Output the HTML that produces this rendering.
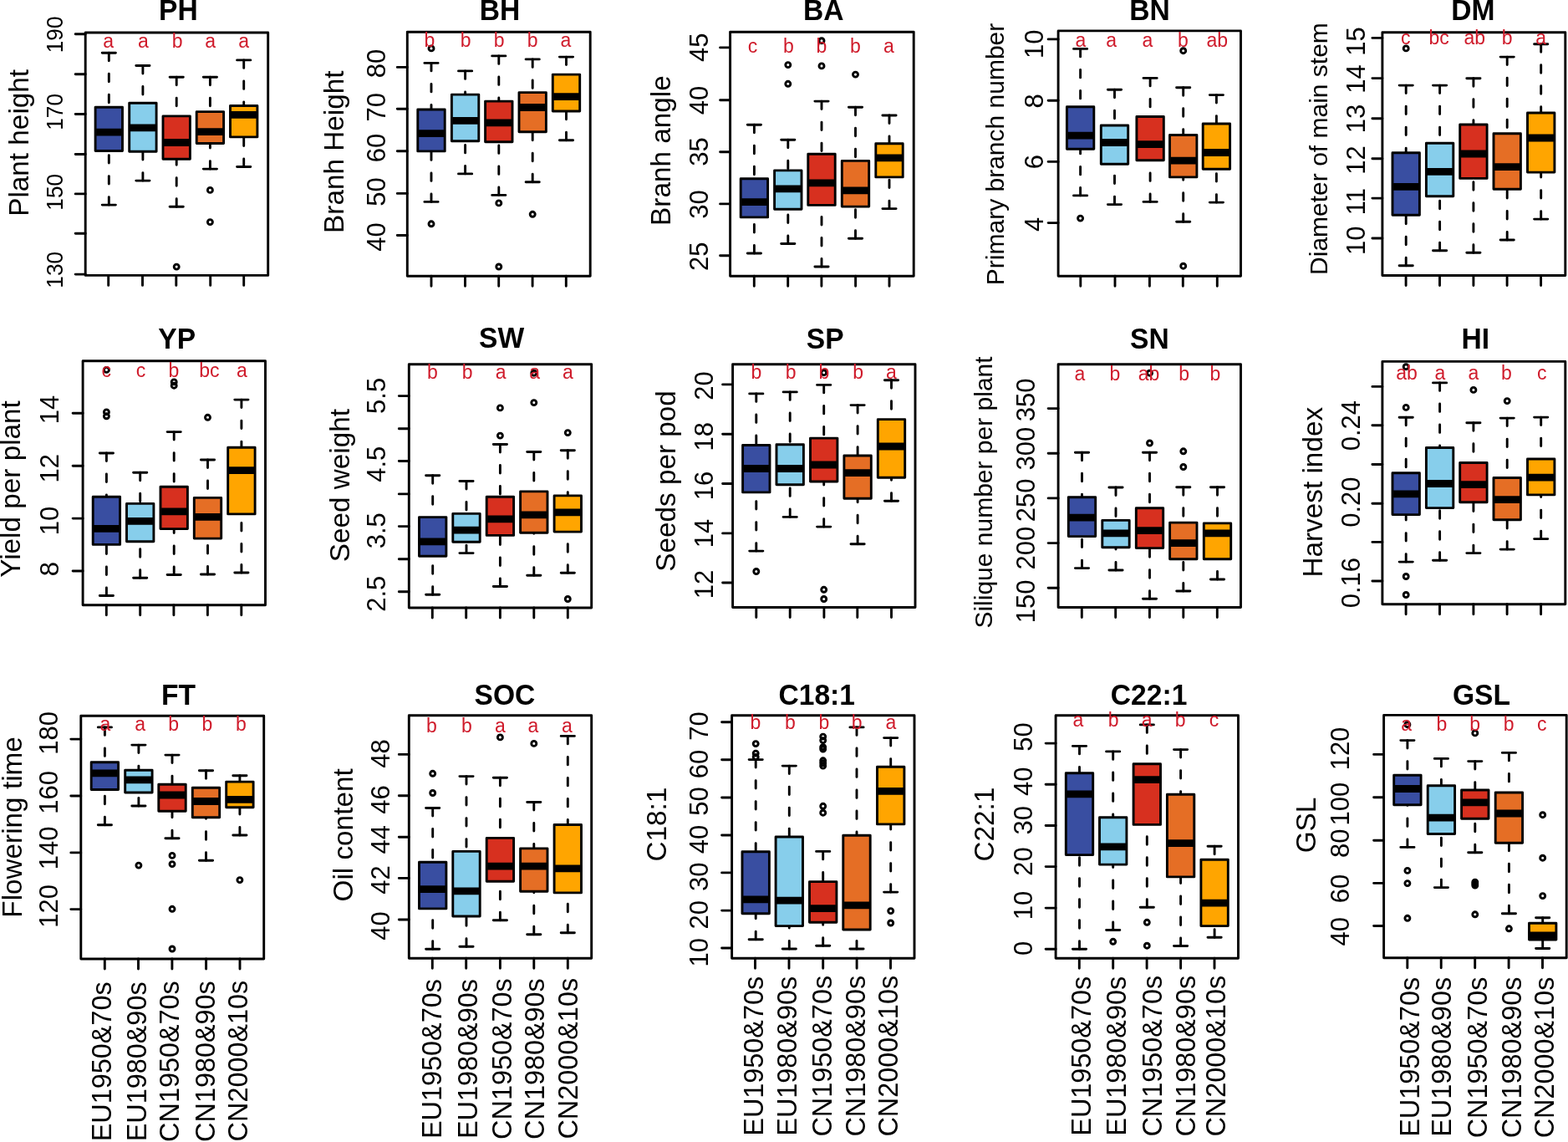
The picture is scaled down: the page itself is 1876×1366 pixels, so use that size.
<!DOCTYPE html>
<html lang="en">
<head>
<meta charset="utf-8">
<title>Trait boxplots</title>
<style>
html,body{margin:0;padding:0;background:#fff;}
body{width:1876px;height:1366px;overflow:hidden;}
svg{display:block;}
text{font-family:"Liberation Sans",Arial,Helvetica,sans-serif;fill:#000;}
.k{stroke:#000;stroke-width:2.9;stroke-linecap:round;stroke-linejoin:round;fill:none;}
.d{stroke:#000;stroke-width:2.9;stroke-linecap:round;fill:none;stroke-dasharray:9.5 15.5;}
.m{stroke:#000;stroke-width:8.8;stroke-linecap:butt;fill:none;}
.b{stroke:#000;stroke-width:2.9;stroke-linejoin:round;}
.t{font-size:33.6px;font-weight:bold;text-anchor:middle;}
.y{font-size:33.3px;text-anchor:start;}
.n{font-size:31px;text-anchor:middle;}
.x{font-size:32.4px;text-anchor:end;}
.l{font-size:23px;text-anchor:middle;fill:#cf1b2b;}
</style>
</head>
<body>
<svg width="1876" height="1366" viewBox="0 0 1876 1366">
<rect x="0" y="0" width="1876" height="1366" fill="#ffffff"/>
<g id="p-PH">
<text class="t" transform="translate(213.4 23.8) scale(1 1.04)">PH</text>
<text class="y" transform="translate(33.8 258.8) rotate(-90)">Plant height</text>
<text class="n" style="font-size:26.3px" transform="translate(75.1 41.4) rotate(-90) scale(1 1.04)">190</text>
<text class="n" style="font-size:26.3px" transform="translate(75.1 133.9) rotate(-90) scale(1 1.04)">170</text>
<text class="n" style="font-size:26.3px" transform="translate(75.1 229.7) rotate(-90) scale(1 1.04)">150</text>
<text class="n" style="font-size:26.3px" transform="translate(75.1 322.7) rotate(-90) scale(1 1.04)">130</text>
<path class="k" d="M90.2 40.8H102.2M90.2 88.8H102.2M90.2 136.5H102.2M90.2 184.5H102.2M90.2 231.9H102.2M90.2 279.3H102.2M90.2 328.1H102.2M129.7 329.4V341.4M170.5 329.4V341.4M210.8 329.4V341.4M251.7 329.4V341.4M291.7 329.4V341.4"/>
<path class="d" d="M130.3 63.2V128.3"/><path class="d" d="M130.3 245.1V180.5"/><path class="k" d="M122.2 63.2H138.4M122.2 245.1H138.4"/>
<rect class="b" x="114.1" y="128.3" width="32.4" height="52.2" fill="#394EA1"/><path class="m" d="M113.5 158.1H147.1"/>
<path class="d" d="M170.9 78.5V123.3"/><path class="d" d="M170.9 216.1V181.3"/><path class="k" d="M162.8 78.5H179M162.8 216.1H179"/>
<rect class="b" x="154.7" y="123.3" width="32.4" height="58" fill="#87CEEB"/><path class="m" d="M154.1 152.8H187.7"/>
<path class="d" d="M211.2 92.2V138.9"/><path class="d" d="M211.2 247.2V190.3"/><path class="k" d="M203.1 92.2H219.3M203.1 247.2H219.3"/>
<rect class="b" x="195" y="138.9" width="32.4" height="51.4" fill="#D7301F"/><path class="m" d="M194.4 170.5H228"/>
<circle class="k" cx="211.2" cy="319.1" r="3.0"/>
<path class="d" d="M251.4 92.2V133.6"/><path class="d" d="M251.4 202.1V171.6"/><path class="k" d="M243.3 92.2H259.5M243.3 202.1H259.5"/>
<rect class="b" x="235.2" y="133.6" width="32.4" height="37.9" fill="#E56E25"/><path class="m" d="M234.6 157.6H268.2"/>
<circle class="k" cx="251.4" cy="227.4" r="3.0"/><circle class="k" cx="251.4" cy="265.6" r="3.0"/>
<path class="d" d="M291.7 71.9V126.5"/><path class="d" d="M291.7 199.5V163.9"/><path class="k" d="M283.6 71.9H299.8M283.6 199.5H299.8"/>
<rect class="b" x="275.5" y="126.5" width="32.4" height="37.4" fill="#FFA500"/><path class="m" d="M274.9 137.3H308.5"/>
<rect class="k" x="102.2" y="39" width="218.5" height="290.4"/>
<text class="l" x="129.7" y="57.4">a</text><text class="l" x="171.3" y="57.4">a</text><text class="l" x="212.1" y="57.4">b</text><text class="l" x="251.7" y="57.4">a</text><text class="l" x="291.7" y="57.4">a</text>
</g>
<g id="p-BH">
<text class="t" transform="translate(597.9 23.8) scale(1 1.04)">BH</text>
<text class="y" transform="translate(411.2 278.9) rotate(-90)">Branh Height</text>
<text class="n" transform="translate(460.7 76) rotate(-90) scale(1 1.04)">80</text>
<text class="n" transform="translate(460.7 128.3) rotate(-90) scale(1 1.04)">70</text>
<text class="n" transform="translate(460.7 177.1) rotate(-90) scale(1 1.04)">60</text>
<text class="n" transform="translate(460.7 229.6) rotate(-90) scale(1 1.04)">50</text>
<text class="n" transform="translate(460.7 283.6) rotate(-90) scale(1 1.04)">40</text>
<path class="k" d="M475.3 80.4H487.3M475.3 130.3H487.3M475.3 180.7H487.3M475.3 231.4H487.3M475.3 281.5H487.3M516 330.2V342.2M556.5 330.2V342.2M596.7 330.2V342.2M637.1 330.2V342.2M677.3 330.2V342.2"/>
<path class="d" d="M516 75.4V131"/><path class="d" d="M516 241.4V181"/><path class="k" d="M507.9 75.4H524.1M507.9 241.4H524.1"/>
<rect class="b" x="499.8" y="131" width="32.4" height="49.9" fill="#394EA1"/><path class="m" d="M499.2 159.7H532.8"/>
<circle class="k" cx="516" cy="57.9" r="3.0"/><circle class="k" cx="516" cy="267.8" r="3.0"/>
<path class="d" d="M556.6 84.9V113.1"/><path class="d" d="M556.6 207.9V168.7"/><path class="k" d="M548.5 84.9H564.7M548.5 207.9H564.7"/>
<rect class="b" x="540.4" y="113.1" width="32.4" height="55.7" fill="#87CEEB"/><path class="m" d="M539.8 144.3H573.4"/>
<path class="d" d="M596.8 66.9V121.1"/><path class="d" d="M596.8 233.4V169.7"/><path class="k" d="M588.7 66.9H604.9M588.7 233.4H604.9"/>
<rect class="b" x="580.6" y="121.1" width="32.4" height="48.7" fill="#D7301F"/><path class="m" d="M580 146.8H613.6"/>
<circle class="k" cx="596.8" cy="242.9" r="3.0"/><circle class="k" cx="596.8" cy="319" r="3.0"/>
<path class="d" d="M637.2 70.9V110.6"/><path class="d" d="M637.2 217.7V157.7"/><path class="k" d="M629.1 70.9H645.3M629.1 217.7H645.3"/>
<rect class="b" x="621" y="110.6" width="32.4" height="47.2" fill="#E56E25"/><path class="m" d="M620.4 128.5H654"/>
<circle class="k" cx="637.2" cy="256.3" r="3.0"/>
<path class="d" d="M677.5 68.1V89.1"/><path class="d" d="M677.5 167.7V133"/><path class="k" d="M669.4 68.1H685.6M669.4 167.7H685.6"/>
<rect class="b" x="661.3" y="89.1" width="32.4" height="43.9" fill="#FFA500"/><path class="m" d="M660.7 115.6H694.3"/>
<rect class="k" x="487.3" y="38.2" width="218.9" height="292"/>
<text class="l" x="514" y="56.1">b</text><text class="l" x="557.2" y="56.1">b</text><text class="l" x="597.2" y="56.1">b</text><text class="l" x="637.1" y="56.1">b</text><text class="l" x="677" y="56.1">a</text>
</g>
<g id="p-BA">
<text class="t" transform="translate(985.2 23.8) scale(1 1.04)">BA</text>
<text class="y" transform="translate(802.3 269.9) rotate(-90)">Branh angle</text>
<text class="n" transform="translate(847.3 56.7) rotate(-90) scale(1 1.04)">45</text>
<text class="n" transform="translate(847.3 120.1) rotate(-90) scale(1 1.04)">40</text>
<text class="n" transform="translate(847.3 181.4) rotate(-90) scale(1 1.04)">35</text>
<text class="n" transform="translate(847.3 244.4) rotate(-90) scale(1 1.04)">30</text>
<text class="n" transform="translate(847.3 306.8) rotate(-90) scale(1 1.04)">25</text>
<path class="k" d="M861.6 56.9H873.6M861.6 119.8H873.6M861.6 181.7H873.6M861.6 243.9H873.6M861.6 305.8H873.6M902.3 330.2V342.2M942.7 330.2V342.2M982.9 330.2V342.2M1023.6 330.2V342.2M1064 330.2V342.2"/>
<path class="d" d="M902.4 149.3V213.7"/><path class="d" d="M902.4 303V259.8"/><path class="k" d="M894.3 149.3H910.5M894.3 303H910.5"/>
<rect class="b" x="886.2" y="213.7" width="32.4" height="46.2" fill="#394EA1"/><path class="m" d="M885.6 241.6H919.2"/>
<path class="d" d="M942.8 167.2V203.9"/><path class="d" d="M942.8 291.5V250.3"/><path class="k" d="M934.7 167.2H950.9M934.7 291.5H950.9"/>
<rect class="b" x="926.6" y="203.9" width="32.4" height="46.4" fill="#87CEEB"/><path class="m" d="M926 225.9H959.6"/>
<circle class="k" cx="942.8" cy="77.6" r="3.0"/><circle class="k" cx="942.8" cy="100.3" r="3.0"/>
<path class="d" d="M983 121.1V184.2"/><path class="d" d="M983 319V245.4"/><path class="k" d="M974.9 121.1H991.1M974.9 319H991.1"/>
<rect class="b" x="966.8" y="184.2" width="32.4" height="61.2" fill="#D7301F"/><path class="m" d="M966.2 218.9H999.8"/>
<circle class="k" cx="983" cy="48.7" r="3.0"/><circle class="k" cx="983" cy="78.9" r="3.0"/>
<path class="d" d="M1023.5 128.3V192.4"/><path class="d" d="M1023.5 285.3V247.1"/><path class="k" d="M1015.4 128.3H1031.6M1015.4 285.3H1031.6"/>
<rect class="b" x="1007.3" y="192.4" width="32.4" height="54.7" fill="#E56E25"/><path class="m" d="M1006.7 227.9H1040.3"/>
<circle class="k" cx="1023.5" cy="89.1" r="3.0"/>
<path class="d" d="M1064 138V171.7"/><path class="d" d="M1064 249.6V211.9"/><path class="k" d="M1055.9 138H1072.1M1055.9 249.6H1072.1"/>
<rect class="b" x="1047.8" y="171.7" width="32.4" height="40.2" fill="#FFA500"/><path class="m" d="M1047.2 188.9H1080.8"/>
<rect class="k" x="873.6" y="38.2" width="219.6" height="292"/>
<text class="l" x="900.5" y="62.6">c</text><text class="l" x="943.5" y="62.6">b</text><text class="l" x="982.9" y="62.6">b</text><text class="l" x="1023.3" y="62.6">b</text><text class="l" x="1063.3" y="62.6">a</text>
</g>
<g id="p-BN">
<text class="t" transform="translate(1375.4 23.8) scale(1 1.04)">BN</text>
<text class="y" style="font-size:30px" transform="translate(1201.4 341.2) rotate(-90)">Primary branch number</text>
<text class="n" transform="translate(1247.5 52.7) rotate(-90) scale(1 1.04)">10</text>
<text class="n" transform="translate(1247.5 120.8) rotate(-90) scale(1 1.04)">8</text>
<text class="n" transform="translate(1247.5 193.7) rotate(-90) scale(1 1.04)">6</text>
<text class="n" transform="translate(1247.5 268.4) rotate(-90) scale(1 1.04)">4</text>
<path class="k" d="M1254.1 46.9H1266.1M1254.1 120.3H1266.1M1254.1 193.4H1266.1M1254.1 266.6H1266.1M1292.8 330.2V342.2M1334 330.2V342.2M1375.4 330.2V342.2M1415.3 330.2V342.2M1456.3 330.2V342.2"/>
<path class="d" d="M1292.6 58.4V127.8"/><path class="d" d="M1292.6 233.9V178.2"/><path class="k" d="M1284.5 58.4H1300.7M1284.5 233.9H1300.7"/>
<rect class="b" x="1276.4" y="127.8" width="32.4" height="50.4" fill="#394EA1"/><path class="m" d="M1275.8 162.2H1309.4"/>
<circle class="k" cx="1292.6" cy="261.1" r="3.0"/>
<path class="d" d="M1333.5 107.3V150"/><path class="d" d="M1333.5 244.6V196.2"/><path class="k" d="M1325.4 107.3H1341.6M1325.4 244.6H1341.6"/>
<rect class="b" x="1317.3" y="150" width="32.4" height="46.2" fill="#87CEEB"/><path class="m" d="M1316.7 170.5H1350.3"/>
<path class="d" d="M1376.1 93.4V139.5"/><path class="d" d="M1376.1 241.4V191.7"/><path class="k" d="M1368 93.4H1384.2M1368 241.4H1384.2"/>
<rect class="b" x="1359.9" y="139.5" width="32.4" height="52.2" fill="#D7301F"/><path class="m" d="M1359.3 172.7H1392.9"/>
<path class="d" d="M1415.7 104.8V161.5"/><path class="d" d="M1415.7 265.3V211.9"/><path class="k" d="M1407.6 104.8H1423.8M1407.6 265.3H1423.8"/>
<rect class="b" x="1399.5" y="161.5" width="32.4" height="50.4" fill="#E56E25"/><path class="m" d="M1398.9 192.2H1432.5"/>
<circle class="k" cx="1415.7" cy="60.7" r="3.0"/><circle class="k" cx="1415.7" cy="318.2" r="3.0"/>
<path class="d" d="M1455.4 113.6V148"/><path class="d" d="M1455.4 242.1V202.2"/><path class="k" d="M1447.3 113.6H1463.5M1447.3 242.1H1463.5"/>
<rect class="b" x="1439.2" y="148" width="32.4" height="54.2" fill="#FFA500"/><path class="m" d="M1438.6 182.5H1472.2"/>
<rect class="k" x="1266.1" y="36.9" width="218.4" height="293.3"/>
<text class="l" x="1292.8" y="55.6">a</text><text class="l" x="1329.7" y="55.6">a</text><text class="l" x="1372.9" y="55.6">a</text><text class="l" x="1415.3" y="55.6">b</text><text class="l" x="1456.3" y="55.6">ab</text>
</g>
<g id="p-DM">
<text class="t" transform="translate(1762.4 23.8) scale(1 1.04)">DM</text>
<text class="y" style="font-size:30px" transform="translate(1588.4 328.9) rotate(-90)">Diameter of main stem</text>
<text class="n" transform="translate(1633.1 49.5) rotate(-90) scale(1 1.04)">15</text>
<text class="n" transform="translate(1633.1 94.6) rotate(-90) scale(1 1.04)">14</text>
<text class="n" transform="translate(1633.1 142) rotate(-90) scale(1 1.04)">13</text>
<text class="n" transform="translate(1633.1 191.5) rotate(-90) scale(1 1.04)">12</text>
<text class="n" transform="translate(1633.1 241.1) rotate(-90) scale(1 1.04)">11</text>
<text class="n" transform="translate(1633.1 287.8) rotate(-90) scale(1 1.04)">10</text>
<path class="k" d="M1641.9 45.4H1653.9M1641.9 93.6H1653.9M1641.9 141.8H1653.9M1641.9 189.7H1653.9M1641.9 237.1H1653.9M1641.9 285H1653.9M1682.1 329.5V341.5M1722.5 329.5V341.5M1762.9 329.5V341.5M1803.1 329.5V341.5M1843.6 329.5V341.5"/>
<path class="d" d="M1682.2 102.1V182.7"/><path class="d" d="M1682.2 317.7V257.3"/><path class="k" d="M1674.1 102.1H1690.3M1674.1 317.7H1690.3"/>
<rect class="b" x="1666" y="182.7" width="32.4" height="74.6" fill="#394EA1"/><path class="m" d="M1665.4 223.4H1699"/>
<circle class="k" cx="1682.2" cy="57.9" r="3.0"/>
<path class="d" d="M1722.6 102.1V171.2"/><path class="d" d="M1722.6 299.8V234.9"/><path class="k" d="M1714.5 102.1H1730.7M1714.5 299.8H1730.7"/>
<rect class="b" x="1706.4" y="171.2" width="32.4" height="63.6" fill="#87CEEB"/><path class="m" d="M1705.8 205.4H1739.4"/>
<path class="d" d="M1762.9 93.8V149"/><path class="d" d="M1762.9 302.3V213.4"/><path class="k" d="M1754.8 93.8H1771M1754.8 302.3H1771"/>
<rect class="b" x="1746.7" y="149" width="32.4" height="64.4" fill="#D7301F"/><path class="m" d="M1746.1 184H1779.7"/>
<path class="d" d="M1803.2 68.1V159.7"/><path class="d" d="M1803.2 287V226.4"/><path class="k" d="M1795.1 68.1H1811.3M1795.1 287H1811.3"/>
<rect class="b" x="1787" y="159.7" width="32.4" height="66.6" fill="#E56E25"/><path class="m" d="M1786.4 199.7H1820"/>
<path class="d" d="M1843.7 52.7V135"/><path class="d" d="M1843.7 262.1V206.2"/><path class="k" d="M1835.6 52.7H1851.8M1835.6 262.1H1851.8"/>
<rect class="b" x="1827.5" y="135" width="32.4" height="71.1" fill="#FFA500"/><path class="m" d="M1826.9 165H1860.5"/>
<rect class="k" x="1653.9" y="38.7" width="218.9" height="290.8"/>
<text class="l" x="1681.8" y="53.1">c</text><text class="l" x="1721.7" y="53.1">bc</text><text class="l" x="1764.2" y="53.1">ab</text><text class="l" x="1803.1" y="53.1">b</text><text class="l" x="1843.6" y="53.1">a</text>
</g>
<g id="p-YP">
<text class="t" transform="translate(211.7 417.2) scale(1 1.04)">YP</text>
<text class="y" transform="translate(23.6 690.8) rotate(-90)">Yield per plant</text>
<text class="n" transform="translate(70 489.9) rotate(-90) scale(1 1.04)">14</text>
<text class="n" transform="translate(70 560.3) rotate(-90) scale(1 1.04)">12</text>
<text class="n" transform="translate(70 623.1) rotate(-90) scale(1 1.04)">10</text>
<text class="n" transform="translate(70 680.6) rotate(-90) scale(1 1.04)">8</text>
<path class="k" d="M87.1 494.3H99.1M87.1 557.2H99.1M87.1 620.1H99.1M87.1 683H99.1M127.3 723.7V735.7M167.7 723.7V735.7M207.9 723.7V735.7M248.4 723.7V735.7M288.8 723.7V735.7"/>
<path class="d" d="M127.4 542V594.2"/><path class="d" d="M127.4 712.5V651.3"/><path class="k" d="M119.3 542H135.5M119.3 712.5H135.5"/>
<rect class="b" x="111.2" y="594.2" width="32.4" height="57.2" fill="#394EA1"/><path class="m" d="M110.6 632.4H144.2"/>
<circle class="k" cx="127.4" cy="442.4" r="3.0"/><circle class="k" cx="127.4" cy="492.9" r="3.0"/><circle class="k" cx="127.4" cy="497.8" r="3.0"/>
<path class="d" d="M167.7 565.2V602.4"/><path class="d" d="M167.7 691.3V647.9"/><path class="k" d="M159.6 565.2H175.8M159.6 691.3H175.8"/>
<rect class="b" x="151.5" y="602.4" width="32.4" height="45.4" fill="#87CEEB"/><path class="m" d="M150.9 623.4H184.5"/>
<path class="d" d="M208.2 516.6V582.2"/><path class="d" d="M208.2 687.5V632.6"/><path class="k" d="M200.1 516.6H216.3M200.1 687.5H216.3"/>
<rect class="b" x="192" y="582.2" width="32.4" height="50.4" fill="#D7301F"/><path class="m" d="M191.4 611.9H225"/>
<circle class="k" cx="208.2" cy="456.9" r="3.0"/><circle class="k" cx="208.2" cy="461.2" r="3.0"/>
<path class="d" d="M248.5 550V595.4"/><path class="d" d="M248.5 687V644.1"/><path class="k" d="M240.4 550H256.6M240.4 687H256.6"/>
<rect class="b" x="232.3" y="595.4" width="32.4" height="48.7" fill="#E56E25"/><path class="m" d="M231.7 618.4H265.3"/>
<circle class="k" cx="248.5" cy="499.3" r="3.0"/>
<path class="d" d="M288.9 478.1V535.3"/><path class="d" d="M288.9 685V614.9"/><path class="k" d="M280.8 478.1H297M280.8 685H297"/>
<rect class="b" x="272.7" y="535.3" width="32.4" height="79.6" fill="#FFA500"/><path class="m" d="M272.1 562.7H305.7"/>
<rect class="k" x="99.1" y="431.7" width="218.4" height="292"/>
<text class="l" x="127.3" y="451.4">c</text><text class="l" x="168.5" y="451.4">c</text><text class="l" x="207.9" y="451.4">b</text><text class="l" x="250.3" y="451.4">bc</text><text class="l" x="289.5" y="451.4">a</text>
</g>
<g id="p-SW">
<text class="t" transform="translate(600.1 416.1) scale(1 1.04)">SW</text>
<text class="y" transform="translate(418 672.3) rotate(-90)">Seed weight</text>
<text class="n" transform="translate(460.9 473.4) rotate(-90) scale(1 1.04)">5.5</text>
<text class="n" transform="translate(460.9 555.3) rotate(-90) scale(1 1.04)">4.5</text>
<text class="n" transform="translate(460.9 634.8) rotate(-90) scale(1 1.04)">3.5</text>
<text class="n" transform="translate(460.9 710.3) rotate(-90) scale(1 1.04)">2.5</text>
<path class="k" d="M477.3 473.6H489.3M477.3 512.8H489.3M477.3 551.5H489.3M477.3 590.9H489.3M477.3 629.6H489.3M477.3 668.8H489.3M477.3 707.8H489.3M517.3 727V739M557.7 727V739M598.4 727V739M638.8 727V739M679.3 727V739"/>
<path class="d" d="M517.7 568.7V618.6"/><path class="d" d="M517.7 711.3V665.3"/><path class="k" d="M509.6 568.7H525.8M509.6 711.3H525.8"/>
<rect class="b" x="501.5" y="618.6" width="32.4" height="46.7" fill="#394EA1"/><path class="m" d="M500.9 647.9H534.5"/>
<path class="d" d="M558 575.5V614.4"/><path class="d" d="M558 661.6V648.4"/><path class="k" d="M549.9 575.5H566.1M549.9 661.6H566.1"/>
<rect class="b" x="541.8" y="614.4" width="32.4" height="33.9" fill="#87CEEB"/><path class="m" d="M541.2 634.1H574.8"/>
<path class="d" d="M598.4 531.5V594.2"/><path class="d" d="M598.4 701.5V640.4"/><path class="k" d="M590.3 531.5H606.5M590.3 701.5H606.5"/>
<rect class="b" x="582.2" y="594.2" width="32.4" height="46.2" fill="#D7301F"/><path class="m" d="M581.6 620.9H615.2"/>
<circle class="k" cx="598.4" cy="487.9" r="3.0"/><circle class="k" cx="598.4" cy="521.1" r="3.0"/>
<path class="d" d="M638.8 540.5V587.9"/><path class="d" d="M638.8 688.3V637.4"/><path class="k" d="M630.7 540.5H646.9M630.7 688.3H646.9"/>
<rect class="b" x="622.6" y="587.9" width="32.4" height="49.4" fill="#E56E25"/><path class="m" d="M622 615.9H655.6"/>
<circle class="k" cx="638.8" cy="446.2" r="3.0"/><circle class="k" cx="638.8" cy="481.6" r="3.0"/>
<path class="d" d="M679.3 538.8V592.9"/><path class="d" d="M679.3 685.3V636.1"/><path class="k" d="M671.2 538.8H687.4M671.2 685.3H687.4"/>
<rect class="b" x="663.1" y="592.9" width="32.4" height="43.2" fill="#FFA500"/><path class="m" d="M662.5 612.9H696.1"/>
<circle class="k" cx="679.3" cy="517.6" r="3.0"/><circle class="k" cx="679.3" cy="716.5" r="3.0"/>
<rect class="k" x="489.3" y="435.7" width="218.4" height="291.3"/>
<text class="l" x="517.3" y="453">b</text><text class="l" x="559.2" y="453">b</text><text class="l" x="599.1" y="453">a</text><text class="l" x="639.6" y="453">a</text><text class="l" x="679.3" y="453">a</text>
</g>
<g id="p-SP">
<text class="t" transform="translate(987.2 416.5) scale(1 1.04)">SP</text>
<text class="y" transform="translate(808 683.7) rotate(-90)">Seeds per pod</text>
<text class="n" transform="translate(853.1 461.6) rotate(-90) scale(1 1.04)">20</text>
<text class="n" transform="translate(853.1 522.2) rotate(-90) scale(1 1.04)">18</text>
<text class="n" transform="translate(853.1 581.1) rotate(-90) scale(1 1.04)">16</text>
<text class="n" transform="translate(853.1 638) rotate(-90) scale(1 1.04)">14</text>
<text class="n" transform="translate(853.1 699) rotate(-90) scale(1 1.04)">12</text>
<path class="k" d="M864.6 459.9H876.6M864.6 519.3H876.6M864.6 578.5H876.6M864.6 637.9H876.6M864.6 697H876.6M904.8 726.5V738.5M945.2 726.5V738.5M985.9 726.5V738.5M1025.8 726.5V738.5M1066.5 726.5V738.5"/>
<path class="d" d="M904.8 470.9V532.5"/><path class="d" d="M904.8 659.1V588.9"/><path class="k" d="M896.7 470.9H912.9M896.7 659.1H912.9"/>
<rect class="b" x="888.6" y="532.5" width="32.4" height="56.4" fill="#394EA1"/><path class="m" d="M888 560.5H921.6"/>
<circle class="k" cx="904.8" cy="683.5" r="3.0"/>
<path class="d" d="M945.2 468.9V531.8"/><path class="d" d="M945.2 618.4V579.7"/><path class="k" d="M937.1 468.9H953.3M937.1 618.4H953.3"/>
<rect class="b" x="929" y="531.8" width="32.4" height="47.9" fill="#87CEEB"/><path class="m" d="M928.4 560.5H962"/>
<path class="d" d="M985.7 460.4V524.1"/><path class="d" d="M985.7 630.1V576"/><path class="k" d="M977.6 460.4H993.8M977.6 630.1H993.8"/>
<rect class="b" x="969.5" y="524.1" width="32.4" height="51.9" fill="#D7301F"/><path class="m" d="M968.9 556H1002.5"/>
<circle class="k" cx="985.7" cy="445.7" r="3.0"/><circle class="k" cx="985.7" cy="705.3" r="3.0"/><circle class="k" cx="985.7" cy="716.5" r="3.0"/>
<path class="d" d="M1026.1 484.6V545"/><path class="d" d="M1026.1 650.8V596.2"/><path class="k" d="M1018 484.6H1034.2M1018 650.8H1034.2"/>
<rect class="b" x="1009.9" y="545" width="32.4" height="51.2" fill="#E56E25"/><path class="m" d="M1009.3 565.7H1042.9"/>
<path class="d" d="M1066.5 454.7V501.6"/><path class="d" d="M1066.5 599.2V571.2"/><path class="k" d="M1058.4 454.7H1074.6M1058.4 599.2H1074.6"/>
<rect class="b" x="1050.3" y="501.6" width="32.4" height="69.6" fill="#FFA500"/><path class="m" d="M1049.7 534H1083.3"/>
<rect class="k" x="876.6" y="435.7" width="218.4" height="290.8"/>
<text class="l" x="904.8" y="452.6">b</text><text class="l" x="946.2" y="452.6">b</text><text class="l" x="985.9" y="452.6">b</text><text class="l" x="1026.6" y="452.6">b</text><text class="l" x="1066.5" y="452.6">a</text>
</g>
<g id="p-SN">
<text class="t" transform="translate(1375.4 416.5) scale(1 1.04)">SN</text>
<text class="y" style="font-size:30px" transform="translate(1187.1 751.6) rotate(-90)">Silique number per plant</text>
<text class="n" transform="translate(1237.9 478.3) rotate(-90) scale(1 1.04)">350</text>
<text class="n" transform="translate(1237.9 536.7) rotate(-90) scale(1 1.04)">300</text>
<text class="n" transform="translate(1237.9 598.4) rotate(-90) scale(1 1.04)">250</text>
<text class="n" transform="translate(1237.9 655.6) rotate(-90) scale(1 1.04)">200</text>
<text class="n" transform="translate(1237.9 719.4) rotate(-90) scale(1 1.04)">150</text>
<path class="k" d="M1254.1 488.6H1266.1M1254.1 542.3H1266.1M1254.1 595.9H1266.1M1254.1 649.6H1266.1M1254.1 703.3H1266.1M1294.3 726.5V738.5M1334.7 726.5V738.5M1375.4 726.5V738.5M1415.8 726.5V738.5M1456.3 726.5V738.5"/>
<path class="d" d="M1294.5 541.3V594.7"/><path class="d" d="M1294.5 679.6V641.6"/><path class="k" d="M1286.4 541.3H1302.6M1286.4 679.6H1302.6"/>
<rect class="b" x="1278.3" y="594.7" width="32.4" height="46.9" fill="#394EA1"/><path class="m" d="M1277.7 619.1H1311.3"/>
<path class="d" d="M1335 583V622.4"/><path class="d" d="M1335 682V654.8"/><path class="k" d="M1326.9 583H1343.1M1326.9 682H1343.1"/>
<rect class="b" x="1318.8" y="622.4" width="32.4" height="32.4" fill="#87CEEB"/><path class="m" d="M1318.2 637.9H1351.8"/>
<path class="d" d="M1375.5 541.3V607.7"/><path class="d" d="M1375.5 716.2V655.6"/><path class="k" d="M1367.4 541.3H1383.6M1367.4 716.2H1383.6"/>
<rect class="b" x="1359.3" y="607.7" width="32.4" height="47.9" fill="#D7301F"/><path class="m" d="M1358.7 634.6H1392.3"/>
<circle class="k" cx="1375.5" cy="446.2" r="3.0"/><circle class="k" cx="1375.5" cy="530" r="3.0"/>
<path class="d" d="M1415.8 582.7V625.1"/><path class="d" d="M1415.8 707V668.8"/><path class="k" d="M1407.7 582.7H1423.9M1407.7 707H1423.9"/>
<rect class="b" x="1399.6" y="625.1" width="32.4" height="43.7" fill="#E56E25"/><path class="m" d="M1399 649.6H1432.6"/>
<circle class="k" cx="1415.8" cy="539.8" r="3.0"/><circle class="k" cx="1415.8" cy="558.5" r="3.0"/>
<path class="d" d="M1456.5 582.7V625.9"/><path class="d" d="M1456.5 693V668.8"/><path class="k" d="M1448.4 582.7H1464.6M1448.4 693H1464.6"/>
<rect class="b" x="1440.3" y="625.9" width="32.4" height="42.9" fill="#FFA500"/><path class="m" d="M1439.7 637.9H1473.3"/>
<rect class="k" x="1266.1" y="435.7" width="218.4" height="290.8"/>
<text class="l" x="1291.8" y="454.9">a</text><text class="l" x="1334" y="454.9">b</text><text class="l" x="1374.6" y="454.9">ab</text><text class="l" x="1416.6" y="454.9">b</text><text class="l" x="1454" y="454.9">b</text>
</g>
<g id="p-HI">
<text class="t" transform="translate(1765.4 416.5) scale(1 1.04)">HI</text>
<text class="y" transform="translate(1582 690.5) rotate(-90)">Harvest index</text>
<text class="n" transform="translate(1627.1 509.2) rotate(-90) scale(1 1.04)">0.24</text>
<text class="n" transform="translate(1627.1 600.6) rotate(-90) scale(1 1.04)">0.20</text>
<text class="n" transform="translate(1627.1 697.2) rotate(-90) scale(1 1.04)">0.16</text>
<path class="k" d="M1641.9 462.4H1653.9M1641.9 508.8H1653.9M1641.9 555.5H1653.9M1641.9 602.2H1653.9M1641.9 648.4H1653.9M1641.9 695H1653.9M1682.1 722.7V734.7M1722.5 722.7V734.7M1762.9 722.7V734.7M1803.1 722.7V734.7M1843.6 722.7V734.7"/>
<path class="d" d="M1682.2 499.3V565.7"/><path class="d" d="M1682.2 672.1V615.7"/><path class="k" d="M1674.1 499.3H1690.3M1674.1 672.1H1690.3"/>
<rect class="b" x="1666" y="565.7" width="32.4" height="49.9" fill="#394EA1"/><path class="m" d="M1665.4 590.9H1699"/>
<circle class="k" cx="1682.2" cy="438.7" r="3.0"/><circle class="k" cx="1682.2" cy="487.4" r="3.0"/><circle class="k" cx="1682.2" cy="689.5" r="3.0"/><circle class="k" cx="1682.2" cy="711.5" r="3.0"/>
<path class="d" d="M1722.6 457.9V535.5"/><path class="d" d="M1722.6 670.3V607.7"/><path class="k" d="M1714.5 457.9H1730.7M1714.5 670.3H1730.7"/>
<rect class="b" x="1706.4" y="535.5" width="32.4" height="72.1" fill="#87CEEB"/><path class="m" d="M1705.8 578.5H1739.4"/>
<path class="d" d="M1762.9 505.8V553.5"/><path class="d" d="M1762.9 661.6V600.7"/><path class="k" d="M1754.8 505.8H1771M1754.8 661.6H1771"/>
<rect class="b" x="1746.7" y="553.5" width="32.4" height="47.2" fill="#D7301F"/><path class="m" d="M1746.1 579.7H1779.7"/>
<circle class="k" cx="1762.9" cy="466.4" r="3.0"/>
<path class="d" d="M1803.2 500.1V571.5"/><path class="d" d="M1803.2 657.1V621.6"/><path class="k" d="M1795.1 500.1H1811.3M1795.1 657.1H1811.3"/>
<rect class="b" x="1787" y="571.5" width="32.4" height="50.2" fill="#E56E25"/><path class="m" d="M1786.4 597.7H1820"/>
<circle class="k" cx="1803.2" cy="479.6" r="3.0"/>
<path class="d" d="M1843.7 499.1V549"/><path class="d" d="M1843.7 644.6V591.9"/><path class="k" d="M1835.6 499.1H1851.8M1835.6 644.6H1851.8"/>
<rect class="b" x="1827.5" y="549" width="32.4" height="42.9" fill="#FFA500"/><path class="m" d="M1826.9 571.2H1860.5"/>
<rect class="k" x="1653.9" y="432.4" width="218.9" height="290.3"/>
<text class="l" x="1683.1" y="454.4">ab</text><text class="l" x="1723" y="454.4">a</text><text class="l" x="1762.9" y="454.4">a</text><text class="l" x="1802.4" y="454.4">b</text><text class="l" x="1844.8" y="454.4">c</text>
</g>
<g id="p-FT">
<text class="t" transform="translate(213.4 843) scale(1 1.04)">FT</text>
<text class="y" transform="translate(25.6 1097.7) rotate(-90)">Flowering time</text>
<text class="n" transform="translate(68.8 876.8) rotate(-90) scale(1 1.04)">180</text>
<text class="n" transform="translate(68.8 947.9) rotate(-90) scale(1 1.04)">160</text>
<text class="n" transform="translate(68.8 1014.4) rotate(-90) scale(1 1.04)">140</text>
<text class="n" transform="translate(68.8 1083.9) rotate(-90) scale(1 1.04)">120</text>
<path class="k" d="M84.8 884.1H96.8M84.8 952H96.8M84.8 1019.9H96.8M84.8 1087.6H96.8M125.3 1147V1159M165.5 1147V1159M205.9 1147V1159M246.6 1147V1159M287 1147V1159"/>
<path class="d" d="M125.4 869.9V911.8"/><path class="d" d="M125.4 986.7V944.5"/><path class="k" d="M117.3 869.9H133.5M117.3 986.7H133.5"/>
<rect class="b" x="109.2" y="911.8" width="32.4" height="32.7" fill="#394EA1"/><path class="m" d="M108.6 924.8H142.2"/>
<path class="d" d="M165.9 891.1V921.3"/><path class="d" d="M165.9 964V948"/><path class="k" d="M157.8 891.1H174M157.8 964H174"/>
<rect class="b" x="149.7" y="921.3" width="32.4" height="26.7" fill="#87CEEB"/><path class="m" d="M149.1 932.8H182.7"/>
<circle class="k" cx="165.9" cy="1035.1" r="3.0"/>
<path class="d" d="M206 903.1V938.3"/><path class="d" d="M206 1002.7V970.3"/><path class="k" d="M197.9 903.1H214.1M197.9 1002.7H214.1"/>
<rect class="b" x="189.8" y="938.3" width="32.4" height="31.9" fill="#D7301F"/><path class="m" d="M189.2 951H222.8"/>
<circle class="k" cx="206" cy="1023.4" r="3.0"/><circle class="k" cx="206" cy="1033.6" r="3.0"/><circle class="k" cx="206" cy="1087.3" r="3.0"/><circle class="k" cx="206" cy="1135" r="3.0"/>
<path class="d" d="M246.5 921.8V942.3"/><path class="d" d="M246.5 1029.2V977.7"/><path class="k" d="M238.4 921.8H254.6M238.4 1029.2H254.6"/>
<rect class="b" x="230.3" y="942.3" width="32.4" height="35.4" fill="#E56E25"/><path class="m" d="M229.7 958.5H263.3"/>
<path class="d" d="M286.9 927.8V935.1"/><path class="d" d="M286.9 999V965.8"/><path class="k" d="M278.8 927.8H295M278.8 999H295"/>
<rect class="b" x="270.7" y="935.1" width="32.4" height="30.7" fill="#FFA500"/><path class="m" d="M270.1 956.3H303.7"/>
<circle class="k" cx="286.9" cy="1052.6" r="3.0"/>
<rect class="k" x="96.8" y="856.2" width="218.9" height="290.8"/>
<text class="l" x="126" y="873.6">a</text><text class="l" x="167.7" y="873.6">a</text><text class="l" x="207.7" y="873.6">b</text><text class="l" x="247.9" y="873.6">b</text><text class="l" x="288.3" y="873.6">b</text>
<text class="x" transform="translate(133.1 1174.4) rotate(-90) scale(1 1.04)">EU1950&amp;70s</text>
<text class="x" transform="translate(174.5 1174.4) rotate(-90) scale(1 1.04)">EU1980&amp;90s</text>
<text class="x" transform="translate(214.2 1173.2) rotate(-90) scale(1 1.04)">CN1950&amp;70s</text>
<text class="x" transform="translate(257.2 1173.2) rotate(-90) scale(1 1.04)">CN1980&amp;90s</text>
<text class="x" transform="translate(296 1172.7) rotate(-90) scale(1 1.04)">CN2000&amp;10s</text>
</g>
<g id="p-SOC">
<text class="t" transform="translate(603.9 842.5) scale(1 1.04)">SOC</text>
<text class="y" transform="translate(422.2 1078.5) rotate(-90)">Oil content</text>
<text class="n" transform="translate(465.7 901.6) rotate(-90) scale(1 1.04)">48</text>
<text class="n" transform="translate(465.7 956.4) rotate(-90) scale(1 1.04)">46</text>
<text class="n" transform="translate(465.7 1004.2) rotate(-90) scale(1 1.04)">44</text>
<text class="n" transform="translate(465.7 1052.6) rotate(-90) scale(1 1.04)">42</text>
<text class="n" transform="translate(465.7 1107.4) rotate(-90) scale(1 1.04)">40</text>
<path class="k" d="M477.3 902.4H489.3M477.3 951.8H489.3M477.3 1001.2H489.3M477.3 1050.4H489.3M477.3 1100H489.3M517.3 1146.2V1158.2M557.7 1146.2V1158.2M598.4 1146.2V1158.2M638.8 1146.2V1158.2M679.3 1146.2V1158.2"/>
<path class="d" d="M517.7 966.5V1031.2"/><path class="d" d="M517.7 1135.2V1086.8"/><path class="k" d="M509.6 966.5H525.8M509.6 1135.2H525.8"/>
<rect class="b" x="501.5" y="1031.2" width="32.4" height="55.7" fill="#394EA1"/><path class="m" d="M500.9 1063.6H534.5"/>
<circle class="k" cx="517.7" cy="925.3" r="3.0"/><circle class="k" cx="517.7" cy="948.5" r="3.0"/>
<path class="d" d="M558 928.6V1018.4"/><path class="d" d="M558 1132.2V1096"/><path class="k" d="M549.9 928.6H566.1M549.9 1132.2H566.1"/>
<rect class="b" x="541.8" y="1018.4" width="32.4" height="77.6" fill="#87CEEB"/><path class="m" d="M541.2 1065.8H574.8"/>
<path class="d" d="M598.4 930.3V1002.4"/><path class="d" d="M598.4 1100.8V1054.4"/><path class="k" d="M590.3 930.3H606.5M590.3 1100.8H606.5"/>
<rect class="b" x="582.2" y="1002.4" width="32.4" height="51.9" fill="#D7301F"/><path class="m" d="M581.6 1036.1H615.2"/>
<circle class="k" cx="598.4" cy="881.9" r="3.0"/>
<path class="d" d="M638.8 959.5V1014.9"/><path class="d" d="M638.8 1117.8V1066.3"/><path class="k" d="M630.7 959.5H646.9M630.7 1117.8H646.9"/>
<rect class="b" x="622.6" y="1014.9" width="32.4" height="51.4" fill="#E56E25"/><path class="m" d="M622 1036.1H655.6"/>
<circle class="k" cx="638.8" cy="889.4" r="3.0"/>
<path class="d" d="M679.3 880.4V986.5"/><path class="d" d="M679.3 1115.8V1067.8"/><path class="k" d="M671.2 880.4H687.4M671.2 1115.8H687.4"/>
<rect class="b" x="663.1" y="986.5" width="32.4" height="81.4" fill="#FFA500"/><path class="m" d="M662.5 1038.9H696.1"/>
<rect class="k" x="489.3" y="855.7" width="218.4" height="290.5"/>
<text class="l" x="516.5" y="876.4">b</text><text class="l" x="558.5" y="876.4">b</text><text class="l" x="598.4" y="876.4">a</text><text class="l" x="637.8" y="876.4">a</text><text class="l" x="678.5" y="876.4">a</text>
<text class="x" transform="translate(527.6 1171.1) rotate(-90) scale(1 1.04)">EU1950&amp;70s</text>
<text class="x" transform="translate(571.1 1171.1) rotate(-90) scale(1 1.04)">EU1980&amp;90s</text>
<text class="x" transform="translate(611.6 1170.2) rotate(-90) scale(1 1.04)">CN1950&amp;70s</text>
<text class="x" transform="translate(651.3 1170.2) rotate(-90) scale(1 1.04)">CN1980&amp;90s</text>
<text class="x" transform="translate(691 1169.9) rotate(-90) scale(1 1.04)">CN2000&amp;10s</text>
</g>
<g id="p-C18">
<text class="t" transform="translate(977.2 842.5) scale(1 1.04)">C18:1</text>
<text class="y" transform="translate(797.1 1030.5) rotate(-90)">C18:1</text>
<text class="n" transform="translate(847.3 868.6) rotate(-90) scale(1 1.04)">70</text>
<text class="n" transform="translate(847.3 914) rotate(-90) scale(1 1.04)">60</text>
<text class="n" transform="translate(847.3 958.6) rotate(-90) scale(1 1.04)">50</text>
<text class="n" transform="translate(847.3 1004) rotate(-90) scale(1 1.04)">40</text>
<text class="n" transform="translate(847.3 1048.8) rotate(-90) scale(1 1.04)">30</text>
<text class="n" transform="translate(847.3 1094.3) rotate(-90) scale(1 1.04)">20</text>
<text class="n" transform="translate(847.3 1139.2) rotate(-90) scale(1 1.04)">10</text>
<path class="k" d="M863.6 863.7H875.6M863.6 908.8H875.6M863.6 954H875.6M863.6 999H875.6M863.6 1043.9H875.6M863.6 1089.1H875.6M863.6 1134H875.6M903.5 1146.2V1158.2M944 1146.2V1158.2M984.7 1146.2V1158.2M1025.1 1146.2V1158.2M1065.5 1146.2V1158.2"/>
<path class="d" d="M904.2 908.6V1018.7"/><path class="d" d="M904.2 1123.8V1092.8"/><path class="k" d="M896.1 908.6H912.3M896.1 1123.8H912.3"/>
<rect class="b" x="888" y="1018.7" width="32.4" height="74.1" fill="#394EA1"/><path class="m" d="M887.4 1075.8H921"/>
<circle class="k" cx="904.2" cy="889.6" r="3.0"/><circle class="k" cx="904.2" cy="901.1" r="3.0"/><circle class="k" cx="904.2" cy="905.4" r="3.0"/>
<path class="d" d="M944.3 916.1V1001"/><path class="d" d="M944.3 1135V1107.5"/><path class="k" d="M936.2 916.1H952.4M936.2 1135H952.4"/>
<rect class="b" x="928.1" y="1001" width="32.4" height="106.6" fill="#87CEEB"/><path class="m" d="M927.5 1077.1H961.1"/>
<path class="d" d="M984.7 1018.4V1054.6"/><path class="d" d="M984.7 1131.2V1103.3"/><path class="k" d="M976.6 1018.4H992.8M976.6 1131.2H992.8"/>
<rect class="b" x="968.5" y="1054.6" width="32.4" height="48.7" fill="#D7301F"/><path class="m" d="M967.9 1086.6H1001.5"/>
<circle class="k" cx="984.7" cy="881.1" r="3.0"/><circle class="k" cx="984.7" cy="885.6" r="3.0"/><circle class="k" cx="984.7" cy="893.6" r="3.0"/><circle class="k" cx="984.7" cy="896.1" r="3.0"/><circle class="k" cx="984.7" cy="909.8" r="3.0"/><circle class="k" cx="984.7" cy="912.8" r="3.0"/><circle class="k" cx="984.7" cy="916.1" r="3.0"/><circle class="k" cx="984.7" cy="964.3" r="3.0"/><circle class="k" cx="984.7" cy="972.2" r="3.0"/>
<path class="d" d="M1025 869.9V999.2"/><path class="d" d="M1025 1135V1112"/><path class="k" d="M1016.9 869.9H1033.1M1016.9 1135H1033.1"/>
<rect class="b" x="1008.8" y="999.2" width="32.4" height="112.8" fill="#E56E25"/><path class="m" d="M1008.2 1082.8H1041.8"/>
<path class="d" d="M1065.7 882.6V917.3"/><path class="d" d="M1065.7 1067.1V986"/><path class="k" d="M1057.6 882.6H1073.8M1057.6 1067.1H1073.8"/>
<rect class="b" x="1049.5" y="917.3" width="32.4" height="68.6" fill="#FFA500"/><path class="m" d="M1048.9 946.3H1082.5"/>
<circle class="k" cx="1065.7" cy="1089.6" r="3.0"/><circle class="k" cx="1065.7" cy="1104" r="3.0"/>
<rect class="k" x="875.6" y="855.7" width="218.4" height="290.5"/>
<text class="l" x="904" y="871.9">b</text><text class="l" x="945.5" y="871.9">b</text><text class="l" x="985.9" y="871.9">b</text><text class="l" x="1025.1" y="871.9">b</text><text class="l" x="1066" y="871.9">a</text>
<text class="x" transform="translate(913 1167.8) rotate(-90) scale(1 1.04)">EU1950&amp;70s</text>
<text class="x" transform="translate(952.6 1167.8) rotate(-90) scale(1 1.04)">EU1980&amp;90s</text>
<text class="x" transform="translate(995.2 1166.9) rotate(-90) scale(1 1.04)">CN1950&amp;70s</text>
<text class="x" transform="translate(1035.4 1166.9) rotate(-90) scale(1 1.04)">CN1980&amp;90s</text>
<text class="x" transform="translate(1074.4 1166.9) rotate(-90) scale(1 1.04)">CN2000&amp;10s</text>
</g>
<g id="p-C22">
<text class="t" transform="translate(1374.6 842.5) scale(1 1.04)">C22:1</text>
<text class="y" transform="translate(1188.6 1030.5) rotate(-90)">C22:1</text>
<text class="n" transform="translate(1234.9 881.6) rotate(-90) scale(1 1.04)">50</text>
<text class="n" transform="translate(1234.9 934.8) rotate(-90) scale(1 1.04)">40</text>
<text class="n" transform="translate(1234.9 981.3) rotate(-90) scale(1 1.04)">30</text>
<text class="n" transform="translate(1234.9 1030.6) rotate(-90) scale(1 1.04)">20</text>
<text class="n" transform="translate(1234.9 1083.1) rotate(-90) scale(1 1.04)">10</text>
<text class="n" transform="translate(1234.9 1134.3) rotate(-90) scale(1 1.04)">0</text>
<path class="k" d="M1251.1 889.1H1263.1M1251.1 938.3H1263.1M1251.1 987.5H1263.1M1251.1 1036.6H1263.1M1251.1 1086.1H1263.1M1251.1 1135.2H1263.1M1291.3 1146.2V1158.2M1331.7 1146.2V1158.2M1372.1 1146.2V1158.2M1412.6 1146.2V1158.2M1453 1146.2V1158.2"/>
<path class="d" d="M1291.5 892.4V924.8"/><path class="d" d="M1291.5 1135.2V1022.7"/><path class="k" d="M1283.4 892.4H1299.6M1283.4 1135.2H1299.6"/>
<rect class="b" x="1275.3" y="924.8" width="32.4" height="97.8" fill="#394EA1"/><path class="m" d="M1274.7 949.8H1308.3"/>
<path class="d" d="M1331.7 898.9V977.7"/><path class="d" d="M1331.7 1112.5V1034.1"/><path class="k" d="M1323.6 898.9H1339.8M1323.6 1112.5H1339.8"/>
<rect class="b" x="1315.5" y="977.7" width="32.4" height="56.4" fill="#87CEEB"/><path class="m" d="M1314.9 1012.9H1348.5"/>
<circle class="k" cx="1331.7" cy="1126.3" r="3.0"/>
<path class="d" d="M1372.3 866.9V913.8"/><path class="d" d="M1372.3 1085.3V986.5"/><path class="k" d="M1364.2 866.9H1380.4M1364.2 1085.3H1380.4"/>
<rect class="b" x="1356.1" y="913.8" width="32.4" height="72.6" fill="#D7301F"/><path class="m" d="M1355.5 932.6H1389.1"/>
<circle class="k" cx="1372.3" cy="1103.3" r="3.0"/><circle class="k" cx="1372.3" cy="1131.2" r="3.0"/>
<path class="d" d="M1412.6 896.6V950.3"/><path class="d" d="M1412.6 1131.5V1048.9"/><path class="k" d="M1404.5 896.6H1420.7M1404.5 1131.5H1420.7"/>
<rect class="b" x="1396.4" y="950.3" width="32.4" height="98.6" fill="#E56E25"/><path class="m" d="M1395.8 1008.7H1429.4"/>
<path class="d" d="M1453.1 1012.2V1028.2"/><path class="d" d="M1453.1 1121.3V1107.5"/><path class="k" d="M1445 1012.2H1461.2M1445 1121.3H1461.2"/>
<rect class="b" x="1436.9" y="1028.2" width="32.4" height="79.4" fill="#FFA500"/><path class="m" d="M1436.3 1080.1H1469.9"/>
<rect class="k" x="1263.1" y="855.7" width="218.4" height="290.5"/>
<text class="l" x="1289.8" y="869.4">a</text><text class="l" x="1332.2" y="869.4">b</text><text class="l" x="1372.1" y="869.4">a</text><text class="l" x="1412.1" y="869.4">b</text><text class="l" x="1452.5" y="869.4">c</text>
<text class="x" transform="translate(1305.1 1167.8) rotate(-90) scale(1 1.04)">EU1950&amp;70s</text>
<text class="x" transform="translate(1346.6 1167.8) rotate(-90) scale(1 1.04)">EU1980&amp;90s</text>
<text class="x" transform="translate(1389.9 1166.9) rotate(-90) scale(1 1.04)">CN1950&amp;70s</text>
<text class="x" transform="translate(1429.7 1166.9) rotate(-90) scale(1 1.04)">CN1980&amp;90s</text>
<text class="x" transform="translate(1465.9 1166.9) rotate(-90) scale(1 1.04)">CN2000&amp;10s</text>
</g>
<g id="p-GSL">
<text class="t" transform="translate(1772.4 842.5) scale(1 1.04)">GSL</text>
<text class="y" transform="translate(1574.4 1020.3) rotate(-90)">GSL</text>
<text class="n" transform="translate(1614 895.5) rotate(-90) scale(1 1.04)">120</text>
<text class="n" transform="translate(1614 961.7) rotate(-90) scale(1 1.04)">100</text>
<text class="n" transform="translate(1614 1008.7) rotate(-90) scale(1 1.04)">80</text>
<text class="n" transform="translate(1614 1063.1) rotate(-90) scale(1 1.04)">60</text>
<text class="n" transform="translate(1614 1114.3) rotate(-90) scale(1 1.04)">40</text>
<path class="k" d="M1643.6 902.4H1655.6M1643.6 953.8H1655.6M1643.6 1005.2H1655.6M1643.6 1056.4H1655.6M1643.6 1107.5H1655.6M1683.8 1145.7V1157.7M1724.2 1145.7V1157.7M1764.7 1145.7V1157.7M1805.1 1145.7V1157.7M1845.5 1145.7V1157.7"/>
<path class="d" d="M1683.9 885.6V927.3"/><path class="d" d="M1683.9 1013.4V962.8"/><path class="k" d="M1675.8 885.6H1692M1675.8 1013.4H1692"/>
<rect class="b" x="1667.7" y="927.3" width="32.4" height="35.4" fill="#394EA1"/><path class="m" d="M1667.1 943.5H1700.7"/>
<circle class="k" cx="1683.9" cy="866.7" r="3.0"/><circle class="k" cx="1683.9" cy="1041.4" r="3.0"/><circle class="k" cx="1683.9" cy="1056.6" r="3.0"/><circle class="k" cx="1683.9" cy="1098.3" r="3.0"/>
<path class="d" d="M1724.4 907.4V939.8"/><path class="d" d="M1724.4 1061.6V997.5"/><path class="k" d="M1716.3 907.4H1732.5M1716.3 1061.6H1732.5"/>
<rect class="b" x="1708.2" y="939.8" width="32.4" height="57.7" fill="#87CEEB"/><path class="m" d="M1707.6 978.2H1741.2"/>
<path class="d" d="M1764.8 910.6V945"/><path class="d" d="M1764.8 1019.7V979.2"/><path class="k" d="M1756.7 910.6H1772.9M1756.7 1019.7H1772.9"/>
<rect class="b" x="1748.6" y="945" width="32.4" height="34.2" fill="#D7301F"/><path class="m" d="M1748 959.8H1781.6"/>
<circle class="k" cx="1764.8" cy="876.9" r="3.0"/><circle class="k" cx="1764.8" cy="1055.1" r="3.0"/><circle class="k" cx="1764.8" cy="1057.1" r="3.0"/><circle class="k" cx="1764.8" cy="1059.1" r="3.0"/><circle class="k" cx="1764.8" cy="1093.8" r="3.0"/>
<path class="d" d="M1805.4 900.4V948"/><path class="d" d="M1805.4 1092.8V1008.2"/><path class="k" d="M1797.3 900.4H1813.5M1797.3 1092.8H1813.5"/>
<rect class="b" x="1789.2" y="948" width="32.4" height="60.2" fill="#E56E25"/><path class="m" d="M1788.6 973H1822.2"/>
<circle class="k" cx="1805.4" cy="1110.8" r="3.0"/>
<path class="d" d="M1845.7 1097.8V1104.3"/><path class="d" d="M1845.7 1134.5V1124"/><path class="k" d="M1837.6 1097.8H1853.8M1837.6 1134.5H1853.8"/>
<rect class="b" x="1829.5" y="1104.3" width="32.4" height="19.7" fill="#FFA500"/><path class="m" d="M1828.9 1118.8H1862.5"/>
<circle class="k" cx="1845.7" cy="974.7" r="3.0"/><circle class="k" cx="1845.7" cy="1026.2" r="3.0"/><circle class="k" cx="1845.7" cy="1071.6" r="3.0"/>
<rect class="k" x="1655.6" y="855.4" width="218.6" height="290.3"/>
<text class="l" x="1682.6" y="873.6">a</text><text class="l" x="1725" y="873.6">b</text><text class="l" x="1764.7" y="873.6">b</text><text class="l" x="1805.1" y="873.6">b</text><text class="l" x="1844.8" y="873.6">c</text>
<text class="x" transform="translate(1697.6 1168.9) rotate(-90) scale(1 1.04)">EU1950&amp;70s</text>
<text class="x" transform="translate(1735.9 1168.9) rotate(-90) scale(1 1.04)">EU1980&amp;90s</text>
<text class="x" transform="translate(1779.1 1168.6) rotate(-90) scale(1 1.04)">CN1950&amp;70s</text>
<text class="x" transform="translate(1819.8 1168.6) rotate(-90) scale(1 1.04)">CN1980&amp;90s</text>
<text class="x" transform="translate(1858.5 1168.6) rotate(-90) scale(1 1.04)">CN2000&amp;10s</text>
</g>
</svg>
</body>
</html>
